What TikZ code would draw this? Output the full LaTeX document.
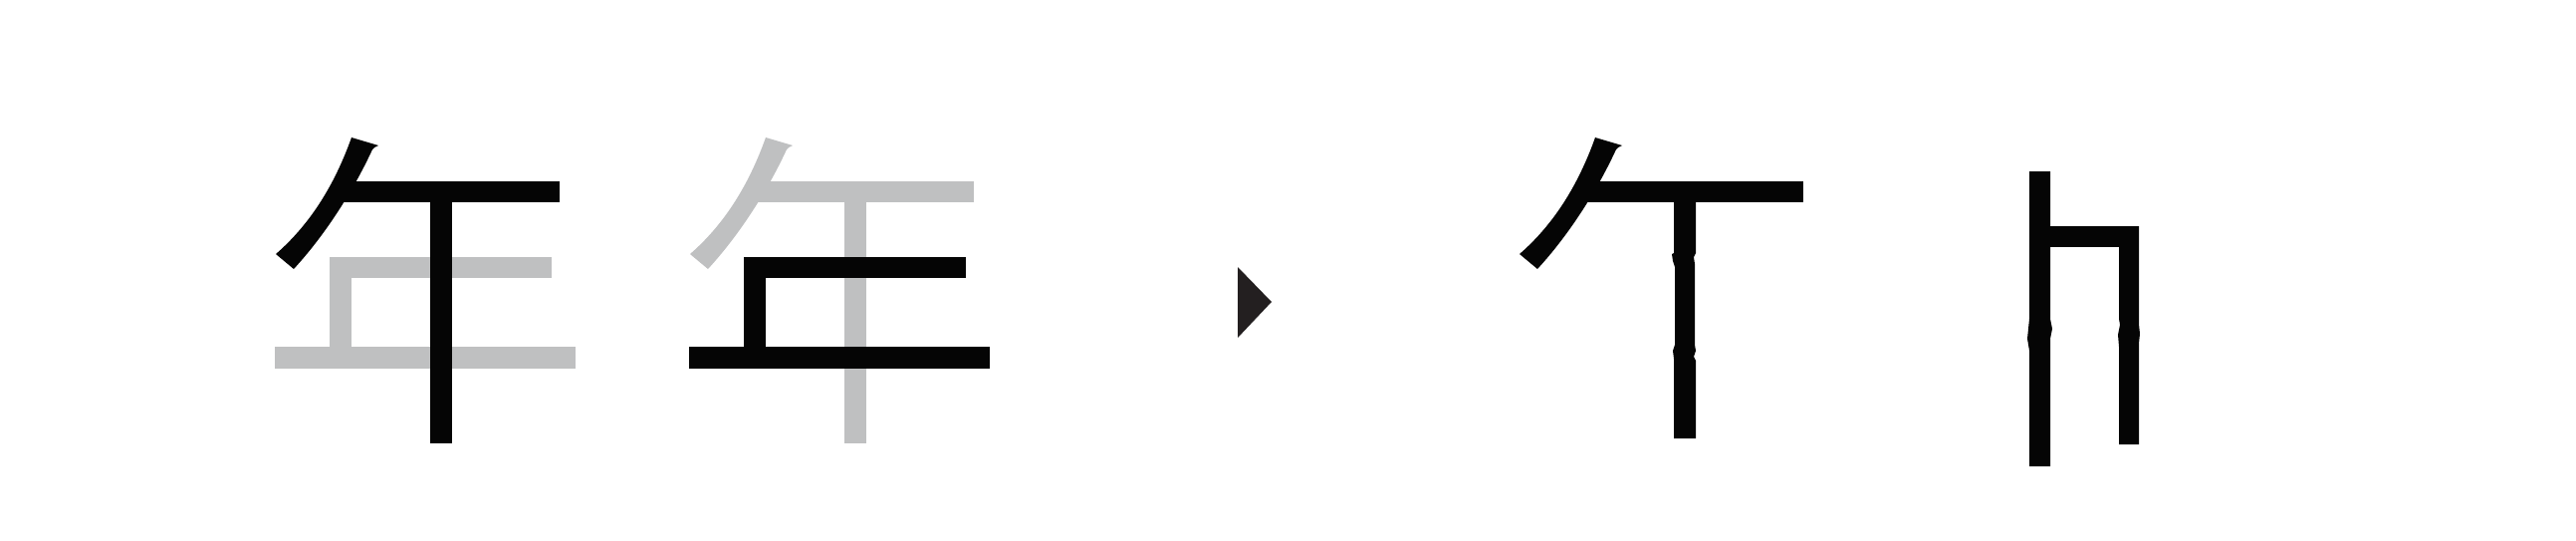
\documentclass[tikz,border=0pt]{standalone}
\definecolor{ink}{RGB}{5,5,5}
\definecolor{ghost}{RGB}{191,192,193}
\definecolor{tri}{RGB}{35,31,32}
\tikzset{
  slashpath/.pic={
    \fill[pic actions] (353,138) -- (380,146) -- (376,148) -- (374,150)
      .. controls (358,185) and (330,232) .. (295,270) -- (277,255)
      .. controls (315,222) and (338,180) .. (353,138) -- cycle;
  },
  inkfill/.style={fill=ink},
  ghostfill/.style={fill=ghost}
}
\begin{document}
\begin{tikzpicture}[x=0.01cm,y=-0.01cm]
\fill[white] (0,0) rectangle (2587,542);
\useasboundingbox (0,0) rectangle (2587,542);
% glyph 1: upper part black, lower part gray
\begin{scope}
  \fill[ghostfill] (331,258) rectangle (554,279);
  \fill[ghostfill] (331,258) rectangle (353,360);
  \fill[ghostfill] (276,348) rectangle (578,370);
  \pic[inkfill] {slashpath};
  \fill[inkfill] (345,182) rectangle (562,203);
  \fill[inkfill] (432,195) rectangle (454,445);
\end{scope}
% glyph 2: upper part gray, lower part black
\begin{scope}[shift={(416,0)}]
  \pic[ghostfill] {slashpath};
  \fill[ghostfill] (345,182) rectangle (562,203);
  \fill[ghostfill] (432,195) rectangle (454,445);
  \fill[inkfill] (331,258) rectangle (554,279);
  \fill[inkfill] (331,258) rectangle (353,360);
  \fill[inkfill] (276,348) rectangle (578,370);
\end{scope}
% arrow triangle
\fill[tri] (1243,268) -- (1277,303) -- (1243,339) -- cycle;
% glyph 3: upper part only
\begin{scope}[shift={(1249,0)}]
  \pic[inkfill] {slashpath};
  \fill[inkfill] (345,182) rectangle (562,203);
  \fill[inkfill] (432,195) -- (454,195) -- (454,254) -- (452,258) -- (453,265)
    -- (453,346) -- (454,352) -- (452,358) -- (454,362) -- (454,440)
    -- (432,440) -- (432,360) -- (431,352) -- (433,346) -- (433,268)
    -- (431,262) -- (430,255) -- (432,254) -- cycle;
\end{scope}
% glyph 4
\fill[inkfill] (2038,172) -- (2059,172) -- (2059,320) -- (2061,330) -- (2059,340)
  -- (2059,350) -- (2059,468) -- (2038,468) -- (2038,352) -- (2036,340)
  -- (2037,330) -- (2038,320) -- cycle;
\fill[inkfill] (2059,227) rectangle (2148,248);
\fill[inkfill] (2128,227) -- (2148,227) -- (2148,325) -- (2149,335) -- (2148,345)
  -- (2148,446) -- (2128,446) -- (2128,348) -- (2127,336) -- (2129,326)
  -- (2128,320) -- cycle;
\end{tikzpicture}
\end{document}
